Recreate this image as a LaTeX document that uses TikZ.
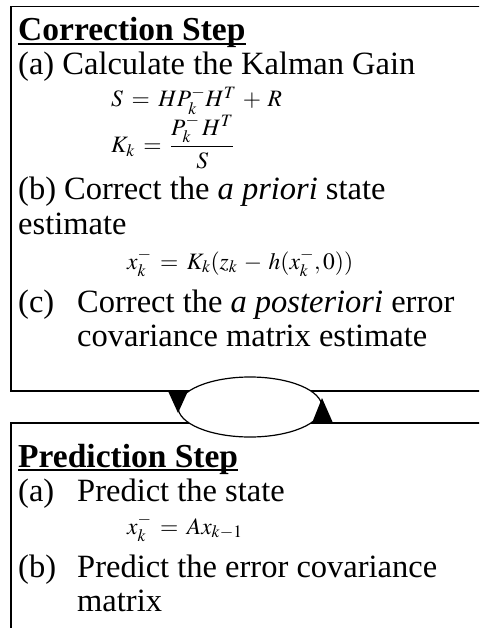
\documentclass[tikz,border=0pt]{standalone}
\usepackage{mathptmx}
\usepackage[no-math]{fontspec}
\setmainfont{Liberation Serif}
\usetikzlibrary{shapes.geometric}
\newcommand{\meq}{\mathrel{\:=\:}}
\newcommand{\mpl}{\mathbin{\:+\:}}
\newcommand{\mmi}{\mathbin{\:-\:}}
\newcommand{\wordul}[1]{\setbox0\hbox{#1}\rlap{\rule[-4pt]{\wd0}{1.6pt}}\box0}
\begin{document}
\begin{tikzpicture}[x=1pt,y=-1pt,
  txt/.style={anchor=base west, inner sep=0pt, font=\fontsize{32.5}{36}\selectfont},
  hd/.style={anchor=base west, inner sep=0pt, font=\fontsize{33.5}{36}\selectfont\bfseries},
  eq/.style={anchor=base west, inner sep=0pt, font=\fontsize{23.5}{27}\selectfont},
  boxline/.style={draw, line width=1.5pt, inner sep=0pt},
  tip/.style={fill=black, draw=none}]
\useasboundingbox (0,0) rectangle (479,628);
\begin{scope}
\clip (0,0) rectangle (479,628);
\node[boxline, anchor=north west, minimum width=500pt, minimum height=384pt] (corr) at (10,6) {};
\node[boxline, anchor=north west, minimum width=500pt, minimum height=240pt] (pred) at (10,422) {};
\end{scope}
% text of correction box
\node[hd] (ct) at (18,41) {\wordul{Correction Step}};
\node[txt] (ca) at (18,75) {(a) Calculate the Kalman Gain};
\node[eq] (e1) at (111,107) {$S \meq HP^{-}_{k}H^{T} \mpl R$};
\node[eq, anchor=west] (e2) at (111,142) {$\displaystyle K_{k} \meq \frac{P^{-}_{k}\,H^{T}}{S}$};
\node[txt] (cb) at (18,200) {(b) Correct the \textit{a priori} state};
\node[txt] (cb2) at (18,234) {estimate};
\node[eq] (e3) at (127,269) {$x^{-}_{k} \meq K_{k}(z_{k} \mmi h(x^{-}_{k},0))$};
\node[txt] (cc) at (18,312) {(c)};
\node[txt] (cc1) at (77,312) {Correct the \textit{a posteriori} error};
\node[txt] (cc2) at (77,346) {covariance matrix estimate};
% loop
\node[draw, fill=white, ellipse, line width=1.2pt, minimum width=144pt, minimum height=60pt, inner sep=0pt] (loop) at (250,407) {};
\fill[tip] (168,391) -- (188,391) -- (178,413) -- cycle;
\fill[tip] (312,423) -- (333,423) -- (322,398) -- cycle;
% text of prediction box
\node[hd] (pt) at (18,467) {\wordul{Prediction Step}};
\node[txt] (pa) at (18,501) {(a)};
\node[txt] (pa1) at (77,501) {Predict the state};
\node[eq] (e4) at (127,534) {$x^{-}_{k} \meq Ax_{k-1}$};
\node[txt] (pb) at (18,577) {(b)};
\node[txt] (pb1) at (77,577) {Predict the error covariance};
\node[txt] (pb2) at (77,611) {matrix};
\end{tikzpicture}
\end{document}
